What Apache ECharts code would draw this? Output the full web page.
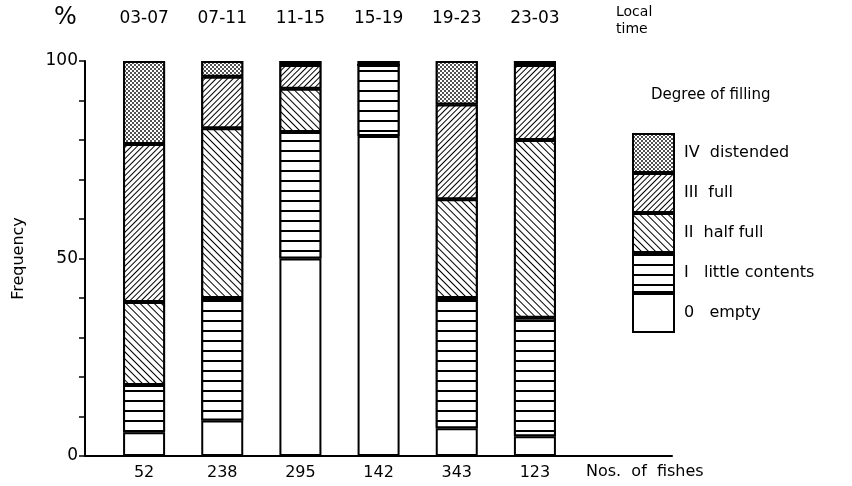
<!DOCTYPE html>
<html>
<head>
<meta charset="utf-8">
<script src="https://cdn.jsdelivr.net/npm/echarts@6/dist/echarts.min.js"></script>
<style>
  html, body { margin: 0; padding: 0; background: #fff; }
  #chart { width: 852px; height: 486px; }
</style>
</head>
<body>
<div id="chart"></div>
<script>
// Stomach filling of fishes by time of day (percent of fishes sampled)
const timeBins = ['03-07', '07-11', '11-15', '15-19', '19-23', '23-03'];
const fishCounts = ['52', '238', '295', '142', '343', '123'];

const emptyPct       = [6, 9, 50, 81, 7, 5];
const littlePct      = [12, 31, 32, 18, 33, 30];
const halfFullPct    = [21, 43, 11, 0, 25, 45];
const fullPct        = [40, 13, 6, 0, 24, 19];
const distendedPct   = [21, 4, 1, 1, 11, 1];

const yTicks = [0, 50, 100];

const FONT = '"DejaVu Sans", "Liberation Sans", Arial, sans-serif';
const INK = '#000';

const decals = {
  empty: null,
  little: {
    symbol: 'rect', symbolSize: 1, color: INK, backgroundColor: '#fff',
    dashArrayX: [1, 0], dashArrayY: [2, 7.5], rotation: 0
  },
  half: {
    symbol: 'rect', symbolSize: 1, color: INK, backgroundColor: '#fff',
    dashArrayX: [1, 0], dashArrayY: [1, 3.2], rotation: Math.PI / 4
  },
  full: {
    symbol: 'rect', symbolSize: 1, color: INK, backgroundColor: '#fff',
    dashArrayX: [1, 0], dashArrayY: [1, 2.6], rotation: -Math.PI / 4
  },
  distended: {
    symbol: 'circle', symbolSize: 0.9, color: INK, backgroundColor: '#fff',
    dashArrayX: [[1.5, 1.5], [0, 1.5, 1.5, 0]], dashArrayY: [1.5, 0], rotation: 0
  }
};

function layer(name, values, decal) {
  const itemStyle = { color: '#fff', borderColor: INK, borderWidth: 2 };
  if (decal) itemStyle.decal = decal;
  return {
    name: name,
    type: 'bar',
    stack: 'filling',
    xAxisIndex: 0,
    yAxisIndex: 0,
    barWidth: 42,
    data: values,
    itemStyle: itemStyle,
    emphasis: { disabled: true },
    silent: true
  };
}

const chart = echarts.init(document.getElementById('chart'), null, { renderer: 'canvas' });

chart.setOption({
  animation: false,
  backgroundColor: '#fff',
  textStyle: { fontFamily: FONT, color: INK },
  grid: [
    { left: 105, width: 469, top: 61, height: 395 },
    { left: 85, right: 180, top: 61, height: 395 }
  ],
  xAxis: [
    {
      type: 'category', gridIndex: 0, position: 'bottom', data: fishCounts,
      axisLine: { show: false }, axisTick: { show: false },
      axisLabel: { margin: 9, fontSize: 16, color: INK, fontFamily: FONT }
    },
    {
      type: 'category', gridIndex: 0, position: 'top', data: timeBins,
      axisLine: { show: false }, axisTick: { show: false },
      axisLabel: { margin: 34, fontSize: 17, color: INK, fontFamily: FONT }
    },
    {
      type: 'value', gridIndex: 1, min: 0, max: 1,
      axisLine: { show: true, lineStyle: { color: INK, width: 2 } },
      axisTick: { show: false }, axisLabel: { show: false }, splitLine: { show: false }
    }
  ],
  yAxis: [
    {
      type: 'value', gridIndex: 0, min: 0, max: 100, interval: 10, offset: 20,
      name: 'Frequency', nameLocation: 'middle', nameGap: 58,
      nameTextStyle: { fontSize: 16, color: INK, fontFamily: FONT },
      axisLine: { show: true, lineStyle: { color: INK, width: 2 } },
      axisTick: { show: true, length: 6, lineStyle: { color: INK, width: 1.5 } },
      splitLine: { show: false },
      axisLabel: {
        fontSize: 17, color: INK, fontFamily: FONT, margin: 7,
        formatter: v => (yTicks.indexOf(v) >= 0 ? String(v) : '')
      }
    },
    {
      type: 'value', gridIndex: 1, min: 0, max: 1, show: false
    }
  ],
  legend: {
    orient: 'vertical',
    left: 632, top: 133,
    itemWidth: 41, itemHeight: 38, itemGap: 0,
    icon: 'rect',
    padding: 0,
    selectedMode: false,
    data: ['IV  distended', 'III  full', 'II  half full', 'I   little contents', '0   empty'],
    itemStyle: { borderColor: INK, borderWidth: 2 },
    textStyle: { fontSize: 16, color: INK, fontFamily: FONT, padding: [0, 0, 0, 5] }
  },
  graphic: [
    { type: 'text', left: 54, top: 6, style: { text: '%', font: '24px ' + FONT, fill: INK } },
    { type: 'text', left: 616, top: 4, style: { text: 'Local\ntime', font: '14px ' + FONT, fill: INK, lineHeight: 17 } },
    { type: 'text', left: 651, top: 88, style: { text: 'Degree of filling', font: '15px ' + FONT, fill: INK } },
    { type: 'text', left: 586, top: 464, style: { text: 'Nos.  of  fishes', font: '16px ' + FONT, fill: INK } }
  ],
  series: [
    layer('0   empty', emptyPct, decals.empty),
    layer('I   little contents', littlePct, decals.little),
    layer('II  half full', halfFullPct, decals.half),
    layer('III  full', fullPct, decals.full),
    layer('IV  distended', distendedPct, decals.distended)
  ]
});
</script>
</body>
</html>
